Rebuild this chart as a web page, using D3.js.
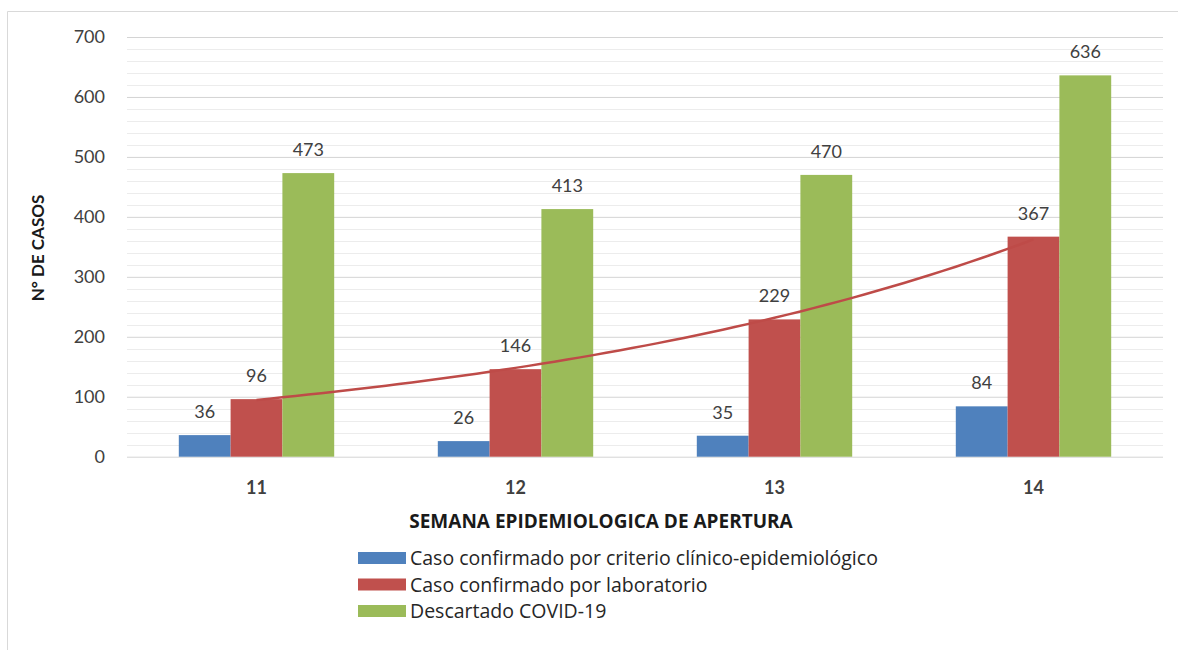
<!DOCTYPE html>
<html>
<head>
<meta charset="utf-8">
<script src="https://cdn.jsdelivr.net/npm/d3@7"></script>
<style>
  body { margin: 0; background: #fff; }
  svg { font-family: Lato, "Open Sans", sans-serif; }
</style>
</head>
<body>
<div id="chart"></div>
<script>
var weeks = ["11", "12", "13", "14"];
var seriesNames = [
  "Caso confirmado por criterio clínico-epidemiológico",
  "Caso confirmado por laboratorio",
  "Descartado COVID-19"
];
var clinico = [36, 26, 35, 84];
var laboratorio = [96, 146, 229, 367];
var descartado = [473, 413, 470, 636];
var yTicks = [0, 100, 200, 300, 400, 500, 600, 700];

var colors = ["#4F81BD", "#C0504D", "#9BBB59"];
var allSeries = [clinico, laboratorio, descartado];

var width = 1178, height = 650;
var margin = {left: 127, right: 15, top: 37, bottom: 193};

var svg = d3.select("#chart").append("svg")
    .attr("width", width)
    .attr("height", height);

// outer frame (top and left edges only visible)
svg.append("path")
    .attr("d", "M7.5,660V11.5H1178")
    .attr("fill", "none")
    .attr("stroke", "#d9d9d9");

var x0 = d3.scaleBand()
    .domain(weeks)
    .range([margin.left, width - margin.right])
    .paddingInner(0.4)
    .paddingOuter(0.2);

var x1 = d3.scaleBand()
    .domain(d3.range(seriesNames.length))
    .range([0, x0.bandwidth()]);

var y = d3.scaleLinear()
    .domain([0, 700])
    .range([height - margin.bottom - 0.3, margin.top]);

// minor gridlines
svg.append("g")
    .selectAll("line")
    .data(d3.range(0, 701, 20).filter(function(v) { return v % 100 !== 0; }))
    .enter().append("line")
    .attr("x1", margin.left).attr("x2", width - margin.right)
    .attr("y1", function(d) { return Math.round(y(d)) + 0.5; })
    .attr("y2", function(d) { return Math.round(y(d)) + 0.5; })
    .attr("stroke", "#ececec");

// major gridlines
var yAxis = d3.axisLeft(y)
    .tickValues(yTicks)
    .tickSize(-(width - margin.left - margin.right))
    .tickPadding(22);

svg.append("g")
    .attr("transform", "translate(" + margin.left + ",0)")
    .call(yAxis)
    .call(function(g) {
        g.select(".domain").remove();
        g.selectAll(".tick line").attr("stroke", "#d4d4d4");
        g.selectAll(".tick text")
            .attr("fill", "#404040")
            .style("font-size", "18px")
            .style("font-family", "Lato, sans-serif");
    });

// bars
var groups = svg.append("g")
    .selectAll("g")
    .data(weeks)
    .enter().append("g")
    .attr("transform", function(d) { return "translate(" + x0(d) + ",0)"; });

groups.selectAll("rect")
    .data(function(d, i) {
        return allSeries.map(function(s, k) { return {k: k, v: s[i]}; });
    })
    .enter().append("rect")
    .attr("x", function(d) { return x1(d.k); })
    .attr("width", x1.bandwidth())
    .attr("y", function(d) { return y(d.v); })
    .attr("height", function(d) { return y(0) - y(d.v); })
    .attr("fill", function(d) { return colors[d.k]; });

groups.selectAll("text")
    .data(function(d, i) {
        return allSeries.map(function(s, k) { return {k: k, v: s[i]}; });
    })
    .enter().append("text")
    .attr("x", function(d) { return x1(d.k) + x1.bandwidth() / 2; })
    .attr("y", function(d) { return y(d.v) - 17; })
    .attr("text-anchor", "middle")
    .attr("fill", "#404040")
    .style("font-size", "18px")
    .text(function(d) { return d.v; });

// exponential trendline on laboratorio
var lx = d3.range(laboratorio.length);
var ly = laboratorio.map(function(v) { return Math.log(v); });
var mx = d3.mean(lx), my = d3.mean(ly);
var sxy = d3.sum(lx, function(v, i) { return (v - mx) * (ly[i] - my); });
var sxx = d3.sum(lx, function(v) { return (v - mx) * (v - mx); });
var b = sxy / sxx, a = my - b * mx;

var step = x0.step();
var xStart = x0(weeks[0]) + x0.bandwidth() / 2;
var trend = d3.range(0, 3.0001, 0.05).map(function(t) {
    return [xStart + t * step, Math.exp(a + b * t)];
});

svg.append("path")
    .datum(trend)
    .attr("fill", "none")
    .attr("stroke", "#BE4B48")
    .attr("stroke-width", 2.5)
    .attr("d", d3.line()
        .x(function(d) { return d[0]; })
        .y(function(d) { return y(d[1]); }));

// x axis labels
svg.append("g")
    .selectAll("text")
    .data(weeks)
    .enter().append("text")
    .attr("x", function(d) { return x0(d) + x0.bandwidth() / 2; })
    .attr("y", 494)
    .attr("text-anchor", "middle")
    .attr("fill", "#404040")
    .style("font-size", "18px")
    .style("font-weight", "bold")
    .text(function(d) { return d; });

// axis titles
svg.append("text")
    .attr("x", 601).attr("y", 528)
    .attr("text-anchor", "middle")
    .attr("fill", "#1a1a1a")
    .style("font-family", "'Open Sans', sans-serif")
    .style("font-size", "19px")
    .style("font-weight", "bold")
    .text("SEMANA EPIDEMIOLOGICA DE APERTURA");

svg.append("text")
    .attr("transform", "translate(44,248) rotate(-90)")
    .attr("text-anchor", "middle")
    .attr("fill", "#1a1a1a")
    .style("font-size", "17px")
    .style("font-weight", "bold")
    .text("N° DE CASOS");

// legend
var legend = svg.append("g")
    .selectAll("g")
    .data(seriesNames)
    .enter().append("g")
    .attr("transform", function(d, i) { return "translate(358," + (558 + i * 26.5) + ")"; });

legend.append("rect")
    .attr("x", 0).attr("y", -6)
    .attr("width", 48).attr("height", 12)
    .attr("fill", function(d, i) { return colors[i]; });

legend.append("text")
    .attr("x", 52).attr("y", 7)
    .attr("fill", "#262626")
    .style("font-family", "'Open Sans', sans-serif")
    .style("font-size", "19.5px")
    .text(function(d) { return d; });
</script>
</body>
</html>
